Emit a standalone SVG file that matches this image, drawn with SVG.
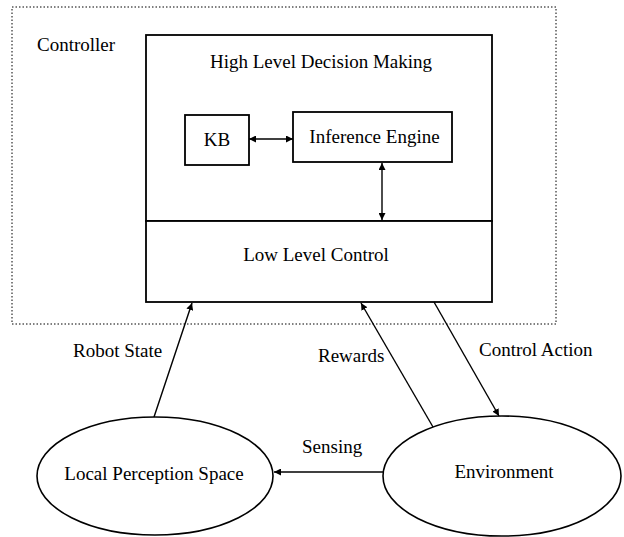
<svg xmlns="http://www.w3.org/2000/svg" width="624" height="537" viewBox="0 0 624 537">
  <defs>
    <marker id="arrow" viewBox="0 0 10 10" refX="10" refY="5" markerWidth="7" markerHeight="7" markerUnits="userSpaceOnUse" orient="auto-start-reverse">
      <path d="M0,0 L10,5 L0,10 z" fill="#000"/>
    </marker>
  </defs>
  <style>
    text { font-family: "Liberation Serif", "Times New Roman", serif; font-size: 19px; fill: #000; }
    .box { fill: #fff; stroke: #000; stroke-width: 1.8; }
    .ell { fill: #fff; stroke: #000; stroke-width: 1.6; }
    .frame { fill: none; stroke: #000; stroke-width: 1; stroke-dasharray: 1.5 2; }
    .link { fill: none; stroke: #000; stroke-width: 1.4; }
    .mid { text-anchor: middle; }
  </style>
  <rect width="624" height="537" fill="#fff"/>

  <!-- controller boundary -->
  <g id="controller">
    <rect class="frame" x="12" y="7" width="544" height="317"/>
    <text x="37" y="51">Controller</text>
  </g>

  <g id="high-level">
    <rect class="box" x="146" y="35" width="346" height="186"/>
    <text class="mid" x="321" y="68">High Level Decision Making</text>
  </g>

  <g id="low-level">
    <rect class="box" x="146" y="221" width="346" height="81"/>
    <text class="mid" x="316" y="261">Low Level Control</text>
  </g>

  <g id="kb">
    <rect class="box" x="185" y="115" width="64" height="50"/>
    <text class="mid" x="217" y="146">KB</text>
  </g>

  <g id="inference-engine">
    <rect class="box" x="293" y="112" width="159" height="50"/>
    <text class="mid" x="374.5" y="143">Inference Engine</text>
  </g>

  <g id="local-perception-space">
    <ellipse class="ell" cx="155" cy="476" rx="118" ry="59"/>
    <text class="mid" x="154" y="480">Local Perception Space</text>
  </g>

  <g id="environment">
    <ellipse class="ell" cx="502" cy="476" rx="119" ry="60"/>
    <text class="mid" x="504" y="478">Environment</text>
  </g>

  <g id="connectors">
    <line class="link" x1="249" y1="139" x2="293" y2="139" marker-start="url(#arrow)" marker-end="url(#arrow)"/>
    <line class="link" x1="382" y1="163" x2="382" y2="220" marker-start="url(#arrow)" marker-end="url(#arrow)"/>
    <line class="link" x1="154" y1="417" x2="192" y2="303" marker-end="url(#arrow)"/>
    <line class="link" x1="433" y1="427" x2="361" y2="303" marker-end="url(#arrow)"/>
    <line class="link" x1="434" y1="302" x2="499" y2="416" marker-end="url(#arrow)"/>
    <line class="link" x1="384" y1="472" x2="274" y2="472" marker-end="url(#arrow)"/>
    <text x="73" y="357">Robot State</text>
    <text x="318" y="362">Rewards</text>
    <text x="479" y="356">Control Action</text>
    <text x="302" y="453">Sensing</text>
  </g>
</svg>
